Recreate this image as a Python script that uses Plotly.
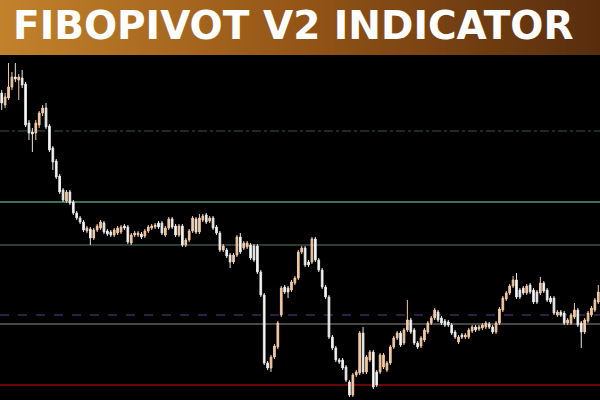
import plotly.graph_objects as go

# OHLC values (price units), bar by bar
opens = [307,295,302,313,323,320,322,316,277,268,267,275,287,292,274,252,239,224,210,199,208,198,187,182,178,169,171,162,170,172,177,169,168,165,167,
         168,174,173,157,165,165,166,164,169,172,173,177,177,165,172,181,174,165,174,155,160,169,181,168,180,185,179,182,173,167,150,150,145,138,145,
         163,152,153,155,154,154,128,105,37,32,43,53,85,113,112,110,117,122,148,152,138,138,161,140,
         130,113,103,63,52,40,40,33,18,5,25,27,67,28,40,48,28,28,33,30,37,53,62,67,57,70,80,70,57,54,60,68,77,82,88,82,79,78,75,68,
         58,65,63,63,69,73,71,72,73,76,73,68,77,90,101,107,114,120,110,112,107,115,110,108,107,117,110,102,102,85,88,87,77,77,83,90,77,68,79,85,90,98]
highs = [310,307,337,328,337,326,330,318,280,272,280,289,295,297,276,254,241,226,212,210,210,200,189,184,180,174,173,172,176,180,179,171,170,172,174,
         175,176,175,167,169,169,168,171,175,176,177,179,179,174,183,183,176,176,176,162,171,184,183,186,186,187,184,184,175,169,156,152,147,147,165,
         167,159,159,157,156,156,130,107,39,45,56,79,114,115,114,120,124,150,154,154,140,163,163,142,
         132,115,105,65,54,42,42,35,20,27,30,69,73,45,50,50,30,47,47,39,55,64,69,69,72,100,82,72,59,64,72,79,84,92,90,84,81,80,77,70,
         65,67,67,72,75,75,75,77,79,78,75,79,93,104,109,116,124,127,112,114,116,117,112,110,123,119,112,104,104,90,90,89,82,87,97,92,79,82,89,94,102,115]
lows = [290,292,300,310,318,300,312,273,260,248,260,272,284,271,248,230,221,206,198,197,195,185,180,176,168,167,155,160,168,170,166,164,163,163,165,
        166,170,156,155,163,163,161,162,167,170,171,171,165,163,170,171,163,163,153,153,158,167,166,166,178,176,177,170,165,148,148,142,132,136,143,
        146,150,151,140,138,126,103,35,30,28,41,51,83,106,102,108,115,120,146,133,133,136,138,128,
        111,101,61,50,38,36,30,18,3,3,23,25,26,26,38,11,13,26,31,28,35,51,60,53,55,68,66,55,51,52,58,66,75,80,78,75,73,73,65,61,
        56,61,61,61,67,68,69,70,71,71,66,66,75,88,99,105,112,101,101,105,105,106,96,96,105,107,98,96,85,83,83,75,75,75,81,73,52,66,77,83,88,96]
closes = [297,303,313,323,321,323,315,275,267,266,277,287,292,273,250,238,223,208,200,208,197,187,182,178,170,172,162,170,174,178,168,166,165,170,172,
          173,172,158,165,167,167,163,169,173,174,175,173,167,172,181,173,165,174,155,160,169,182,168,182,184,178,182,172,167,150,154,144,138,145,163,
          148,157,157,142,140,128,105,37,32,43,54,77,112,108,108,118,122,148,152,135,135,161,140,130,
          113,103,63,52,40,38,32,20,5,25,28,67,28,43,48,13,15,45,45,37,53,62,67,55,70,80,68,57,53,62,70,77,82,90,80,77,75,75,67,63,
          63,63,65,70,73,70,73,75,77,73,68,77,91,102,107,114,120,103,103,107,114,108,98,98,117,109,100,98,87,88,85,77,80,85,90,75,68,80,87,92,100,108]
bars = list(range(len(opens)))

# Fibonacci pivot levels (price units)
level_names = ["R3", "R2", "R1", "PP", "S1", "S2"]
level_values = [269, 198, 155, 85, 76, 15]
level_colors = ["#34564c", "#4c9a78", "#56766a", "#42285f", "#8c8c8c", "#8a0b0b"]
level_dashes = ["dashdot", "solid", "solid", "dash", "solid", "solid"]
level_widths = [1, 1.5, 1, 1.5, 1, 1.5]

title_text = "FIBOPIVOT V2 INDICATOR"

fig = go.Figure()
fig.add_trace(go.Candlestick(
    x=bars, open=opens, high=highs, low=lows, close=closes,
    increasing=dict(fillcolor="#f2c9a4", line=dict(color="#f2c9a4", width=1)),
    decreasing=dict(fillcolor="#ffffff", line=dict(color="#e6e6e6", width=1)),
    whiskerwidth=0, hoverinfo="skip", showlegend=False,
))

for v, c, d, w in zip(level_values, level_colors, level_dashes, level_widths):
    fig.add_hline(y=v, line=dict(color=c, dash=d, width=w), layer="below")

# header gradient banner
def lerp(a, b, t):
    return tuple(round(a[i] + (b[i] - a[i]) * t) for i in range(3))

stops = [(0.0, (194, 130, 44)), (0.5, (148, 85, 23)), (1.0, (88, 45, 13))]
n = 120
for i in range(n):
    t = (i + 0.5) / n
    if t <= 0.5:
        col = lerp(stops[0][1], stops[1][1], t / 0.5)
    else:
        col = lerp(stops[1][1], stops[2][1], (t - 0.5) / 0.5)
    fig.add_shape(type="rect", xref="paper", yref="paper",
                  x0=i / n, x1=(i + 1) / n + 0.002, y0=345 / 400, y1=1,
                  fillcolor="rgb(%d,%d,%d)" % col, line=dict(width=0), layer="above")

fig.add_annotation(text=title_text, xref="paper", yref="paper", x=0.488, y=1 - 25.5 / 400,
                   xanchor="center", yanchor="middle", showarrow=False,
                   font=dict(family="DejaVu Sans", size=39, color="#ffffff", weight=700))

fig.update_layout(
    width=600, height=400, margin=dict(l=0, r=0, t=0, b=0),
    paper_bgcolor="#000000", plot_bgcolor="#000000",
    xaxis=dict(range=[-0.5, 175.5], visible=False, rangeslider=dict(visible=False), fixedrange=True),
    yaxis=dict(range=[0, 346], visible=False, domain=[0, 346 / 400], fixedrange=True),
    showlegend=False,
)

fig.write_html("out.html", config={"displayModeBar": False},
               post_script="document.body.style.margin='0';document.body.style.background='#000';")
